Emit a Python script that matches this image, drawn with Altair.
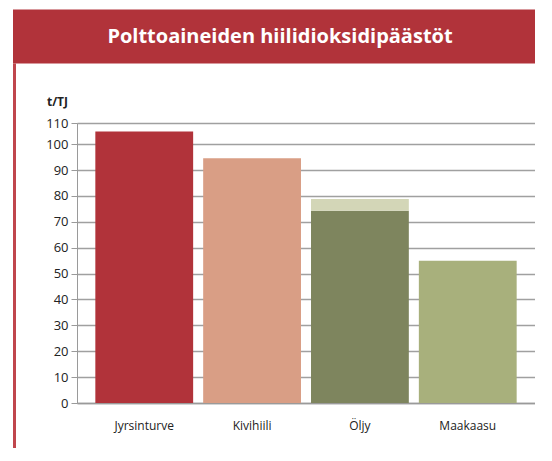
import altair as alt
import pandas as pd

# Data
fuels = ["Jyrsinturve", "Kivihiili", "Öljy", "Öljy", "Maakaasu"]
series = ["Jyrsinturve", "Kivihiili", "Öljy (kevyt)", "Öljy (raskas)", "Maakaasu"]
values = [106.0, 94.6, 74.3, 4.5, 55.0]
order = [0, 0, 0, 1, 0]
categories = ["Jyrsinturve", "Kivihiili", "Öljy", "Maakaasu"]
colors = ["#b1333a", "#d99e85", "#7e855e", "#d3d6b7", "#a8b07c"]
y_ticks = [0, 10, 20, 30, 40, 50, 60, 70, 80, 90, 100, 110]
title_text = "Polttoaineiden hiilidioksidipäästöt"
unit_text = "t/TJ"

df = pd.DataFrame({"fuel": fuels, "series": series, "value": values, "order": order})

W, H = 458, 280
FONT = "Open Sans"

bars = alt.Chart(df).mark_bar().encode(
    x=alt.X("fuel:N", sort=categories,
            scale=alt.Scale(paddingInner=0.093, paddingOuter=0.17),
            axis=alt.Axis(title=None, labelAngle=0, ticks=False, domain=True,
                          domainColor="#9a9a9a", domainWidth=1.5, labelPadding=17,
                          labelFontSize=12, labelColor="#222222", labelFont=FONT, grid=False)),
    y=alt.Y("value:Q", stack="zero",
            scale=alt.Scale(domain=[0, 100, 110], range=[H, 21.2, 0], nice=False, zero=True),
            axis=alt.Axis(values=y_ticks, title=unit_text, titleAngle=0, titleAlign="center",
                          titleBaseline="middle", titleX=-20, titleY=-22, titleFontSize=12,
                          titleFontWeight="bold", titleFont=FONT, titleColor="#222222",
                          labelFontSize=13, labelFont=FONT, labelColor="#222222", labelPadding=3,
                          tickSize=6, tickColor="#9a9a9a", domainColor="#9a9a9a",
                          grid=True, gridColor="#a0a0a0", gridWidth=1.3)),
    color=alt.Color("series:N", scale=alt.Scale(domain=series, range=colors), legend=None),
    order=alt.Order("order:Q"),
)

deco = pd.DataFrame({"k": [0]})

title_bar = alt.Chart(deco).mark_rect(color="#b1333a").encode(
    x=alt.value(-64), x2=alt.value(470), y=alt.value(-113.5), y2=alt.value(-59.5)
)
left_line = alt.Chart(deco).mark_rect(color="#c0464d").encode(
    x=alt.value(-64), x2=alt.value(-61), y=alt.value(-59.5), y2=alt.value(340)
)
title = alt.Chart(deco).mark_text(
    text=title_text, color="white", fontSize=20, fontWeight="bold", font=FONT,
    align="center", baseline="middle"
).encode(x=alt.value(203), y=alt.value(-86.5))

chart = alt.layer(title_bar, left_line, bars, title).properties(
    width=W, height=H,
    autosize=alt.AutoSizeParams(type="none"),
    padding={"left": 69, "top": 115, "right": 0, "bottom": 45},
).configure_view(stroke=None).configure(background="white")

chart.save("out.html", embed_options={"renderer": "svg", "actions": False})
